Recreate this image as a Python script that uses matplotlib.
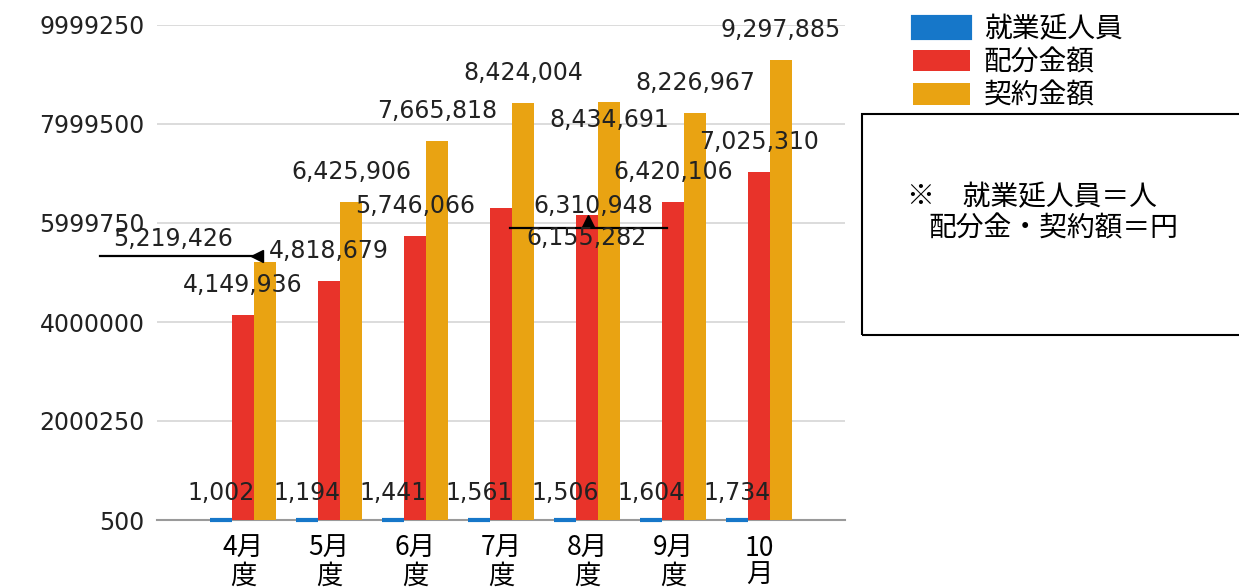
import matplotlib
matplotlib.use("Agg")
import matplotlib.pyplot as plt
from matplotlib.patches import Rectangle
import numpy as np

# data
months = ["4月\n度", "5月\n度", "6月\n度", "7月\n度", "8月\n度", "9月\n度", "10\n月"]
workers = [1002, 1194, 1441, 1561, 1506, 1604, 1734]
allocated = [4149936, 4818679, 5746066, 6310948, 6155282, 6420106, 7025310]
contract = [5219426, 6425906, 7665818, 8424004, 8434691, 8226967, 9297885]
series_names = ["就業延人員", "配分金額", "契約金額"]
yticks = [500, 2000250, 4000000, 5999750, 7999500, 9999250]

colors = ["#1677c9", "#e8332a", "#e9a312"]
cjk = ["Noto Sans CJK JP", "DejaVu Sans"]
num_font = ["DejaVu Sans"]

# label offsets in pixels (dx, dy) from bar top centre
default_dy = 30
label_offsets = {
    (2, 0): (-92, 23),   # 4月 contract label pushed to the left
    (2, 4): (0, -18),    # 8月 contract label below the top
    (1, 3): (92, 2),     # 7月 allocation label pushed right
    (1, 4): (0, -23),    # 8月 allocation label below the top
}

fig = plt.figure(figsize=(12.39, 5.87), dpi=100)
ax = fig.add_axes([157 / 1239, 1 - 520 / 587, (845 - 157) / 1239, (520 - 25) / 587])

x = np.arange(len(months))
w = 0.256
all_series = [workers, allocated, contract]
for k, vals in enumerate(all_series):
    bars = ax.bar(x + (k - 1) * w, vals, width=w, color=colors[k], zorder=3,
                  edgecolor=colors[k], linewidth=3 if k == 0 else 0,
                  label=series_names[k], clip_on=(k != 0))
    for i, (b, v) in enumerate(zip(bars, vals)):
        dx, dy = label_offsets.get((k, i), (0, 27 if k == 0 else default_dy))
        ax.annotate(f"{v:,}", (b.get_x() + b.get_width() / 2, v),
                    xytext=(dx, dy), textcoords="offset pixels",
                    ha="center", va="center", fontsize=17, family=num_font,
                    color="#222222", zorder=5, annotation_clip=False)

# leader lines left over in the original
ax.plot([-1.66, 0.14], [5342000, 5342000], color="black", lw=1.6, clip_on=False, zorder=4)
ax.plot([0.16], [5342000], marker="<", color="black", ms=8, clip_on=False, zorder=4)
ax.plot([3.10, 4.93], [5907000, 5907000], color="black", lw=1.6, clip_on=False, zorder=4)
ax.plot([4.01], [6048000], marker="^", color="black", ms=8, clip_on=False, zorder=4)

ax.set_xlim(-1, 7)
ax.set_ylim(500, 9999250)
ax.set_yticks(yticks)
ax.set_yticklabels([str(t) for t in yticks], family=num_font, fontsize=17, color="#222222")
ax.set_xticks(x)
ax.set_xticklabels(months, family=cjk, fontsize=19, linespacing=1.0, va="top")
ax.tick_params(axis="both", length=0)
ax.tick_params(axis="y", pad=9)
ax.tick_params(axis="x", pad=11)
ax.grid(axis="y", color="#d6d6d6", lw=1.2, zorder=0)
for s in ["left", "right", "top"]:
    ax.spines[s].set_visible(False)
ax.spines["bottom"].set_color("#9a9a9a")
ax.spines["bottom"].set_linewidth(1.5)

leg = ax.legend(loc="upper left", bbox_to_anchor=(913 / 1239, 1 - 14 / 587),
                bbox_transform=fig.transFigure, frameon=False, prop={"family": cjk, "size": 20},
                handlelength=2.05, handleheight=0.8, handletextpad=0.5, labelspacing=0.12,
                borderpad=0, borderaxespad=0)

# note box
fig.add_artist(Rectangle((862 / 1239, 1 - 335 / 587), 400 / 1239, 221 / 587,
                         transform=fig.transFigure, fill=False, edgecolor="black", lw=1.5))
fig.text(907 / 1239, 1 - 197 / 587, "※　就業延人員＝人", family=cjk, fontsize=20, va="center")
fig.text(928 / 1239, 1 - 228 / 587, "配分金・契約額＝円", family=cjk, fontsize=20, va="center")

fig.savefig("out.png", dpi=100)
